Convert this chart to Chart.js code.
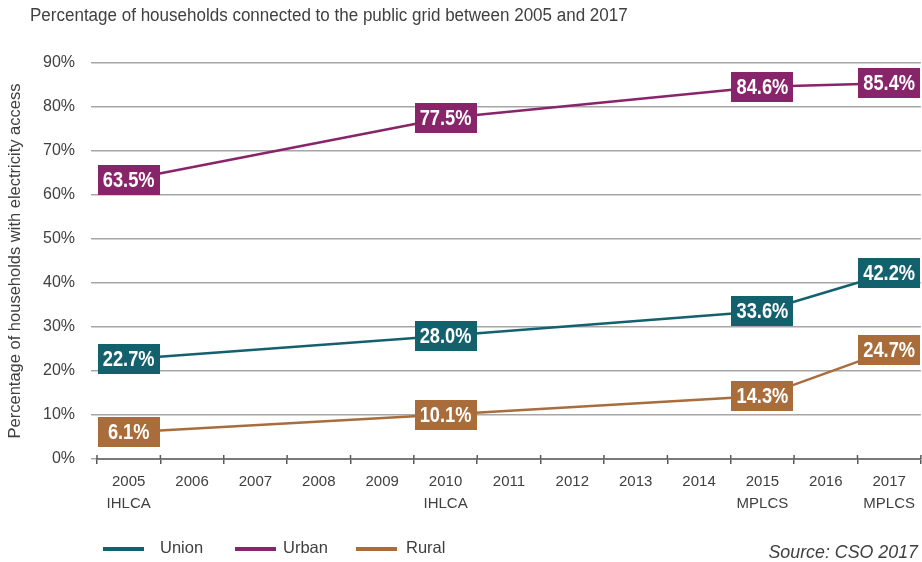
<!DOCTYPE html>
<html><head><meta charset="utf-8">
<script src="https://cdn.jsdelivr.net/npm/chart.js@4"></script>
<style>html,body{margin:0;padding:0;background:#fff;overflow:hidden}#wrap{width:922px;height:562px}</style>
</head><body><div id="wrap"><canvas id="c" width="922" height="562"></canvas></div>
<script>
const years = ['2005','2006','2007','2008','2009','2010','2011','2012','2013','2014','2015','2016','2017'];
const surveys = ['IHLCA','','','','','IHLCA','','','','','MPLCS','','MPLCS'];
const unionValues = [22.7,null,null,null,null,28.0,null,null,null,null,33.6,null,42.2];
const urbanValues = [63.5,null,null,null,null,77.5,null,null,null,null,84.6,null,85.4];
const ruralValues = [6.1,null,null,null,null,10.1,null,null,null,null,14.3,null,24.7];
const seriesNames = ['Union','Urban','Rural'];
const yTickValues = [0,10,20,30,40,50,60,70,80,90];
const titleText = 'Percentage of households connected to the public grid between 2005 and 2017';
const yAxisTitle = 'Percentage of households with electricity access';
const sourceText = 'Source: CSO 2017';

const COLORS = ['#14616e','#88246a','#a86d3b'];
const TEXT = '#404040';
const FONT = '"Liberation Sans", Arial, sans-serif';

const xLabels = years.map((y,i)=> surveys[i] ? [y, surveys[i]] : y);

function condensedText(ctx, text, x, y, sx){
  ctx.save();
  ctx.translate(x, y);
  ctx.scale(sx, 1);
  ctx.fillText(text, 0, 0);
  ctx.restore();
}

const decor = {
  id:'decor',
  afterDatasetsDraw(chart){
    const ctx = chart.ctx;
    chart.data.datasets.forEach((ds,i)=>{
      const meta = chart.getDatasetMeta(i);
      meta.data.forEach((pt,j)=>{
        const v = ds.data[j];
        if (v === null || v === undefined) return;
        const w = 62, h = 30;
        ctx.save();
        ctx.fillStyle = ds.borderColor;
        ctx.fillRect(Math.round(pt.x - w/2), Math.round(pt.y - h/2), w, h);
        ctx.fillStyle = '#fff';
        ctx.font = 'bold 22px ' + FONT;
        ctx.textAlign = 'center';
        ctx.textBaseline = 'middle';
        condensedText(ctx, v.toFixed(1) + '%', pt.x, pt.y + 1, 0.83);
        ctx.restore();
      });
    });
  },
  afterDraw(chart){
    const ctx = chart.ctx;
    const x = chart.scales.x;
    ctx.save();
    ctx.strokeStyle = '#595959';
    ctx.lineWidth = 1.5;
    for (let i = 0; i <= years.length; i++) {
      const px = x.getPixelForValue(i - 0.5);
      ctx.beginPath();
      ctx.moveTo(px, x.top - 4);
      ctx.lineTo(px, x.top);
      ctx.stroke();
    }
    ctx.fillStyle = TEXT;
    ctx.font = '18px ' + FONT;
    ctx.textAlign = 'left';
    ctx.textBaseline = 'middle';
    condensedText(ctx, titleText, 30, 16, 0.945);
    const lx = [103, 235, 356];
    const tx = [160, 283, 406];
    ctx.font = '16.5px ' + FONT;
    chart.data.datasets.forEach((ds,i)=>{
      ctx.strokeStyle = ds.borderColor;
      ctx.lineWidth = 4;
      ctx.beginPath();
      ctx.moveTo(lx[i], 549);
      ctx.lineTo(lx[i] + 41, 549);
      ctx.stroke();
      ctx.fillStyle = TEXT;
      ctx.fillText(ds.label, tx[i], 548);
    });
    ctx.font = 'italic 18px ' + FONT;
    ctx.textAlign = 'right';
    condensedText(ctx, sourceText, 918, 553, 0.99);
    ctx.restore();
  }
};

new Chart(document.getElementById('c'), {
  type: 'line',
  data: {
    labels: xLabels,
    datasets: [
      {label: seriesNames[0], data: unionValues, borderColor: COLORS[0], backgroundColor: COLORS[0]},
      {label: seriesNames[1], data: urbanValues, borderColor: COLORS[1], backgroundColor: COLORS[1]},
      {label: seriesNames[2], data: ruralValues, borderColor: COLORS[2], backgroundColor: COLORS[2]}
    ].map(d => Object.assign(d, {borderWidth: 2.5, pointRadius: 0, tension: 0, spanGaps: true, clip: false}))
  },
  options: {
    responsive: false,
    animation: false,
    devicePixelRatio: 1,
    layout: {padding: {top: 63, right: 0, bottom: 0, left: 0}},
    plugins: {legend: {display: false}, tooltip: {enabled: false}, title: {display: false}},
    scales: {
      x: {
        offset: true,
        grid: {display: true, drawOnChartArea: false, drawTicks: true, tickLength: 5, color: '#595959', lineWidth: 1.5, offset: true},
        border: {display: true, color: '#7a7a7a', width: 2},
        ticks: {color: TEXT, font: {family: FONT, size: 15, lineHeight: 1.45}, padding: 7, maxRotation: 0, autoSkip: false},
        afterFit(s){ s.height = 103; }
      },
      y: {
        min: 0, max: 90,
        afterBuildTicks(s){ s.ticks = yTickValues.map(v => ({value: v})); },
        grid: {color: '#a6a6a6', lineWidth: 1.5, tickLength: 6, drawTicks: true},
        border: {display: false},
        ticks: {color: TEXT, font: {family: FONT, size: 16}, padding: 16, callback: v => v + '%'},
        title: {display: true, text: yAxisTitle, color: TEXT, font: {family: FONT, size: 16.5}, padding: {top: 6, bottom: 0}},
        afterFit(s){ s.width = 97; }
      }
    }
  },
  plugins: [decor]
});
</script>
</body></html>
